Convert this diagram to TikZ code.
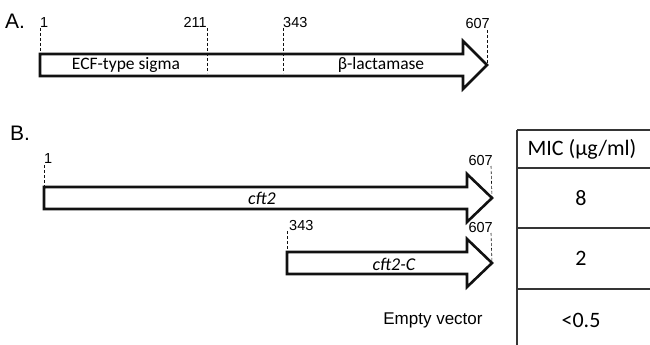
\documentclass[tikz,border=0pt]{standalone}
\usepackage{fontspec}
\usetikzlibrary{positioning, calc}
\newfontfamily\arialfont{Liberation Sans}
\newfontfamily\calfont{Carlito}
\definecolor{ink}{HTML}{111111}

% gene arrow: name, start x, head x, tip x, mid y
\newcommand{\genearrow}[5]{%
  \draw[gene] (#2,#5-11) -- (#3,#5-11) -- (#3,#5-24) -- (#4,#5)
    -- (#3,#5+24) -- (#3,#5+11) -- (#2,#5+11) -- cycle;
  \coordinate (#1-s) at (#2,#5-11);
  \coordinate (#1-t) at (#4,#5);}

\begin{document}
\begin{tikzpicture}[x=1pt, y=-1pt,
      gene/.style={draw=ink, line width=2.6pt, fill=white, line join=miter},
      tickline/.style={draw=ink, line width=0.6pt, dash pattern=on 3pt off 2pt},
      poslabel/.style={font=\arialfont\fontsize{14.5}{16}\selectfont, inner sep=1pt},
      partlabel/.style={font=\arialfont\fontsize{21}{23}\selectfont, inner sep=0pt, anchor=west},
      domtext/.style={font=\calfont\fontsize{17.5}{19}\selectfont, inner sep=0pt},
      genetext/.style={font=\calfont\itshape\fontsize{18}{20}\selectfont, inner sep=0pt},
      miccell/.style={font=\calfont\fontsize{22}{24}\selectfont, inner sep=0pt},
      tablerule/.style={draw=ink!85, line width=1.2pt}]
    \useasboundingbox (0,0) rectangle (650,345);

    % A. domain layout
    \node[partlabel] (pa) at (5,21) {A.};
    \genearrow{ga}{40}{463}{487}{65}
    \node[poslabel, anchor=south west] (a1)   at (39,29)  {1};
    \node[poslabel, anchor=south east] (a211) at (208,29) {211};
    \node[poslabel, anchor=south west] (a343) at (282,29) {343};
    \node[poslabel, anchor=south east] (a607) at (491,30) {607};
    \draw[tickline] (40,28) -- (ga-s);
    \draw[tickline] (207,28) -- (207,73);
    \draw[tickline] (283,28) -- (283,73);
    \draw[tickline] (487,30) -- (ga-t);
    \node[domtext] (ecf) at (126,65) {ECF-type sigma};
    \node[domtext] (bla) at (381,65) {β-lactamase};

    % B. constructs
    \node[partlabel] (pb) at (10,133) {B.};
    \genearrow{gb}{44}{467}{492}{198}
    \node[poslabel, anchor=south west] (b1)   at (43,165)  {1};
    \node[poslabel, anchor=south east] (b607) at (494,167) {607};
    \draw[tickline] (44,165) -- (gb-s);
    \draw[tickline] (491,166) -- (gb-t);
    \node[genetext] (cft) at (262,198) {cft2};

    \genearrow{gc}{287}{467}{492}{263}
    \node[poslabel, anchor=south west] (c343) at (288,232) {343};
    \node[poslabel, anchor=south east] (c607) at (494,234) {607};
    \draw[tickline] (287,231) -- (gc-s);
    \draw[tickline] (491,233) -- (gc-t);
    \node[genetext] (cftc) at (394,264) {cft2-C};

    \node[font=\arialfont\fontsize{17}{19}\selectfont, inner sep=0pt] (empty) at (433,320) {Empty vector};

    % MIC column
    \draw[tablerule] (517,130) -- (650,130);
    \draw[tablerule] (517,130) -- (517,345);
    \foreach \yy in {168,228,289} \draw[tablerule] (517,\yy) -- (650,\yy);
    \node[miccell] (mic)  at (582,149) {MIC (µg/ml)};
    \node[miccell] (mic1) at (581,198) {8};
    \node[miccell] (mic2) at (581,258) {2};
    \node[miccell] (mic3) at (581,320) {<0.5};
  \end{tikzpicture}
\end{document}
